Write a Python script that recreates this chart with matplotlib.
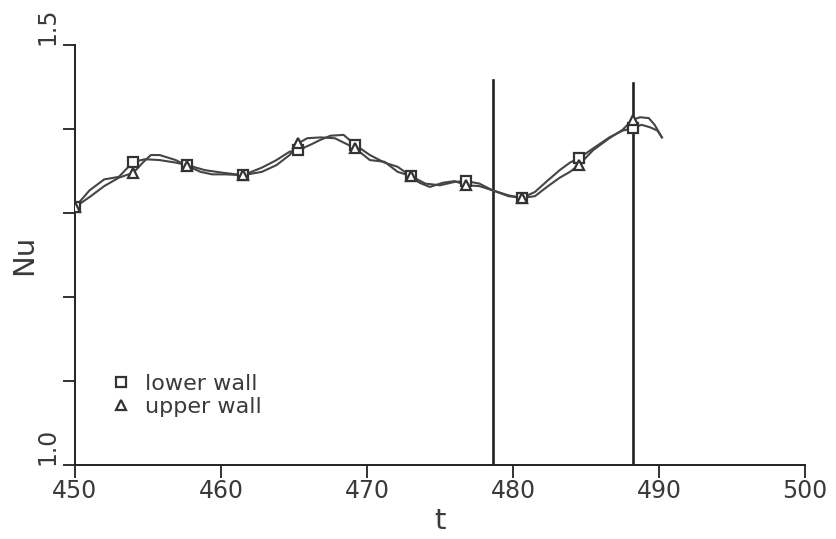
import matplotlib
matplotlib.use("Agg")
import matplotlib.pyplot as plt
from matplotlib.lines import Line2D

# ---- data ----
t_lower = [450.0, 451.0, 452.0, 453.0, 454.0, 454.8, 455.8, 456.9, 457.7, 458.9,
           460.1, 461.5, 462.8, 463.8, 464.7, 465.3, 466.1, 466.8, 467.5, 468.4,
           469.2, 470.2, 471.2, 472.1, 473.0, 474.0, 475.0, 476.0, 476.8, 477.7,
           478.6, 479.7, 480.6, 481.5, 482.4, 483.2, 483.9, 484.5, 485.5, 486.6,
           487.5, 488.2, 488.8, 489.4, 489.9, 490.2]
nu_lower = [1.307, 1.327, 1.340, 1.343, 1.361, 1.364, 1.363, 1.360, 1.357, 1.351,
            1.348, 1.345, 1.354, 1.363, 1.373, 1.375, 1.381, 1.387, 1.392, 1.393,
            1.381, 1.369, 1.360, 1.355, 1.344, 1.335, 1.333, 1.337, 1.338, 1.335,
            1.327, 1.321, 1.318, 1.325, 1.339, 1.351, 1.360, 1.365, 1.377, 1.390,
            1.398, 1.401, 1.405, 1.402, 1.398, 1.390]

t_upper = [450.0, 451.0, 452.0, 453.0, 454.0, 454.7, 455.2, 455.8, 456.9, 457.7,
           458.6, 459.4, 460.3, 461.5, 462.8, 463.8, 464.7, 465.3, 465.9, 466.8,
           467.8, 468.5, 469.2, 470.2, 471.2, 472.1, 473.0, 473.6, 474.3, 475.2,
           476.0, 476.8, 477.7, 478.6, 479.7, 480.6, 481.5, 482.4, 483.2, 483.9,
           484.5, 485.5, 486.6, 487.5, 488.2, 488.7, 489.3, 489.7, 490.2]
nu_upper = [1.307, 1.319, 1.332, 1.342, 1.348, 1.361, 1.369, 1.369, 1.363, 1.356,
            1.349, 1.346, 1.346, 1.345, 1.349, 1.357, 1.369, 1.383, 1.389, 1.390,
            1.389, 1.383, 1.377, 1.363, 1.361, 1.349, 1.344, 1.336, 1.331, 1.336,
            1.338, 1.333, 1.332, 1.327, 1.320, 1.318, 1.320, 1.332, 1.342, 1.349,
            1.357, 1.375, 1.389, 1.399, 1.411, 1.414, 1.413, 1.405, 1.390]

t_marks = [450.0, 454.0, 457.7, 461.5, 465.3, 469.2, 473.0, 476.8, 480.6, 484.5, 488.2]
nu_lower_marks = [1.307, 1.361, 1.357, 1.345, 1.375, 1.381, 1.344, 1.338, 1.318, 1.365, 1.401]
nu_upper_marks = [1.307, 1.348, 1.356, 1.345, 1.383, 1.377, 1.344, 1.333, 1.318, 1.357, 1.411]

t_vlines = [478.6, 488.2]
vline_top = [1.458, 1.455]

x_ticks = [450, 460, 470, 480, 490, 500]
y_ticks = [1.0, 1.1, 1.2, 1.3, 1.4, 1.5]
y_tick_labels = ["1.0", "", "", "", "", "1.5"]
labels = ["lower wall", "upper wall"]

# ---- figure ----
plt.rcParams["font.family"] = ["DejaVu Sans"]

fig = plt.figure(figsize=(8.36, 5.39), dpi=100)
ax = fig.add_axes([0.0897, 0.1373, 0.8732, 0.7792])

lc = "#454545"
ax.plot(t_lower, nu_lower, color=lc, lw=1.5, zorder=2)
ax.plot(t_upper, nu_upper, color=lc, lw=1.5, zorder=2)
ax.plot(t_marks, nu_lower_marks, ls="none", marker="s", ms=6.5, mfc="white",
        mec="#333333", mew=1.6, zorder=3)
ax.plot(t_marks, nu_upper_marks, ls="none", marker="^", ms=6.5, mfc="white",
        mec="#333333", mew=1.6, zorder=3)

for tv, top in zip(t_vlines, vline_top):
    ax.plot([tv, tv], [1.0, top], color="#222222", lw=1.9, zorder=1)

ax.set_xlim(450, 500)
ax.set_ylim(1.0, 1.5)
for s in ("top", "right"):
    ax.spines[s].set_visible(False)
for s in ("left", "bottom"):
    ax.spines[s].set_linewidth(1.4)
    ax.spines[s].set_color("#222222")

tick_col = "#3a3a3a"
ax.set_xticks(x_ticks)
ax.set_xticklabels([str(v) for v in x_ticks], fontsize=17, color=tick_col)
ax.set_yticks(y_ticks)
ax.set_yticklabels(y_tick_labels, fontsize=17, color=tick_col, rotation=90,
                   va="bottom", ha="right")
ax.tick_params(axis="both", direction="out", length=9, width=1.3, color="#222222")
ax.tick_params(axis="x", pad=1)
ax.tick_params(axis="y", pad=2)

ax.set_xlabel("t", fontsize=21, color=tick_col)
ax.xaxis.set_label_coords(0.5, -0.1)
ax.set_ylabel("Nu", fontsize=21, color=tick_col)
ax.yaxis.set_label_coords(-0.05, 0.5)

handles = [Line2D([], [], ls="none", marker="s", ms=6.5, mfc="white", mec="#333333", mew=1.6),
           Line2D([], [], ls="none", marker="^", ms=6.5, mfc="white", mec="#333333", mew=1.6)]
ax.legend(handles, labels, loc="lower left", bbox_to_anchor=(0.02, 0.066),
          frameon=False, fontsize=16, handlelength=1.0, handletextpad=0.6,
          labelspacing=0.15, labelcolor=tick_col)

fig.savefig("out.png", dpi=100)
